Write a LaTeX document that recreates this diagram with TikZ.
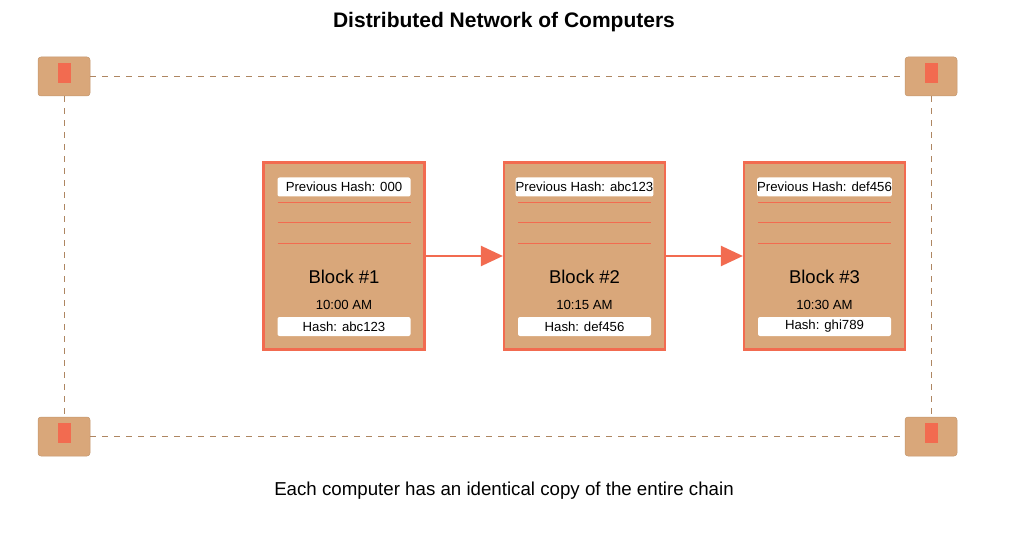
\documentclass[tikz,border=0pt]{standalone}
\usepackage{fontspec}
\setmainfont{Liberation Sans}
\usetikzlibrary{shapes,arrows.meta}
\definecolor{tan}{HTML}{D9A77A}
\definecolor{coral}{HTML}{F26B50}
\tikzset{
  pc/.style={shape=rectangle,rounded corners=3pt,fill=tan,draw=tan!90!black,line width=0.5pt,minimum width=52pt,minimum height=39pt},
  screen/.style={shape=rectangle,fill=coral,minimum width=13pt,minimum height=20pt,inner sep=0pt},
  link/.style={draw=tan!80!black,dashed,dash pattern=on 6pt off 6pt,line width=0.8pt},
  block/.style={shape=rectangle,fill=tan,draw=coral,line width=2.2pt,minimum width=161pt,minimum height=187pt},
  field/.style={shape=rectangle,fill=white,rounded corners=2pt,minimum width=133pt,minimum height=19pt,inner sep=0pt,font=\fontsize{13.2}{13.2}\selectfont},
  chain/.style={-{Triangle[length=22pt,width=20pt]},draw=coral,fill=coral,line width=2.2pt}
}
\begin{document}
\begin{tikzpicture}[x=1pt,y=-1pt]
\useasboundingbox (0,0) rectangle (1009,540);
\node[font=\fontsize{21}{21}\selectfont\bfseries] (title) at (504,22) {Distributed Network of Computers};
\node[pc] (pc1) at (64,76.5) {};
\node[pc] (pc2) at (931,76.5) {};
\node[pc] (pc3) at (64,436.5) {};
\node[pc] (pc4) at (931,436.5) {};
\node[screen] at (64.5,73) {};
\node[screen] at (931.5,73) {};
\node[screen] at (64.5,433) {};
\node[screen] at (931.5,433) {};

\path [link] (pc1) -- (pc2);
\path [link] (pc3) -- (pc4);
\path [link] (pc1) -- (pc3);
\path [link] (pc2) -- (pc4);

\node[block] (b1) at (344,256) {};
\node[block] (b2) at (584.5,256) {};
\node[block] (b3) at (824.5,256) {};
\foreach \b/\p/\n/\t/\h in {b1/000/1/10:00/abc123,b2/abc123/2/10:15/def456,b3/def456/3/10:30/ghi789} {
  \node[field] (\b-prev) at ([yshift=69]\b) {Previous Hash: \p};
  \foreach \dy in {53,33,13}
    \draw[coral,line width=1pt] ([xshift=-66.5,yshift=\dy]\b.center) -- ([xshift=66.5,yshift=\dy]\b.center);
  \node[font=\fontsize{18.5}{18.5}\selectfont] (\b-name) at ([yshift=-21]\b) {Block \#\n};
  \node[font=\fontsize{13.2}{13.2}\selectfont] (\b-time) at ([yshift=-49]\b) {\t\ AM};
  \node[field] (\b-hash) at ([yshift=-70.5]\b) {Hash: \h};
}

\path [chain] (b1) -- (b2);
\path [chain] (b2) -- (b3);

\node[font=\fontsize{18.7}{18.7}\selectfont] (note) at (504,491) {Each computer has an identical copy of the entire chain};
\end{tikzpicture}
\end{document}
